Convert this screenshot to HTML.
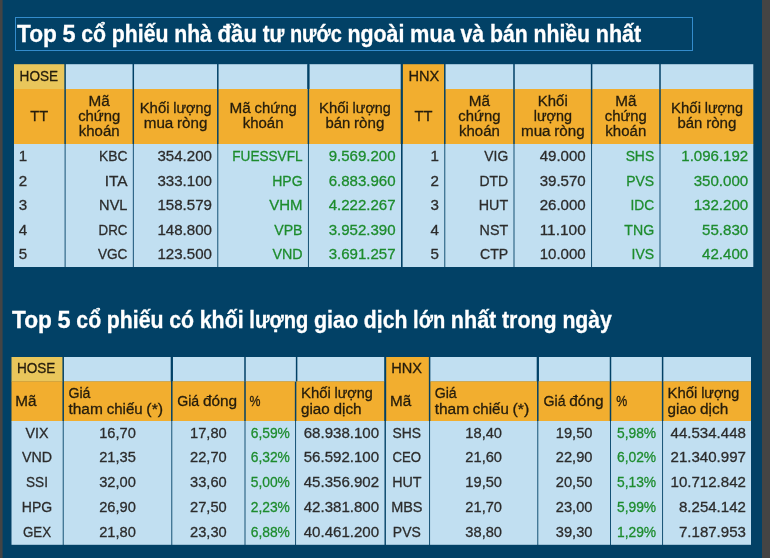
<!DOCTYPE html>
<html lang="vi"><head><meta charset="utf-8"><title>Top 5 cổ phiếu</title>
<style>
html,body{margin:0;padding:0;background:#024166;overflow:hidden}
svg{display:block;font-family:"Liberation Sans",sans-serif;font-size:15.45px}
text{white-space:pre;stroke-width:0.3px}
</style></head><body>
<svg width="770" height="558" viewBox="0 0 770 558">
<rect width="770" height="558" fill="#024166"/>
<rect x="14.00" y="64.20" width="50.35" height="25.10" fill="#e9c65b"/>
<rect x="14.00" y="89.00" width="50.35" height="55.30" fill="#f2ae2f"/>
<rect x="14.00" y="144.00" width="50.65" height="123.00" fill="#c1dff1"/>
<rect x="65.85" y="64.20" width="66.70" height="25.10" fill="#c1dff1"/>
<rect x="65.85" y="89.00" width="66.70" height="55.30" fill="#f2ae2f"/>
<rect x="65.55" y="144.00" width="67.30" height="123.00" fill="#c1dff1"/>
<rect x="134.05" y="64.20" width="83.00" height="25.10" fill="#c1dff1"/>
<rect x="134.05" y="89.00" width="83.00" height="55.30" fill="#f2ae2f"/>
<rect x="133.75" y="144.00" width="83.60" height="123.00" fill="#c1dff1"/>
<rect x="218.55" y="64.20" width="89.10" height="25.10" fill="#c1dff1"/>
<rect x="218.55" y="89.00" width="89.10" height="55.30" fill="#f2ae2f"/>
<rect x="218.25" y="144.00" width="89.70" height="123.00" fill="#c1dff1"/>
<rect x="309.15" y="64.20" width="91.55" height="25.10" fill="#c1dff1"/>
<rect x="309.15" y="89.00" width="91.55" height="55.30" fill="#f2ae2f"/>
<rect x="308.85" y="144.00" width="92.15" height="123.00" fill="#c1dff1"/>
<rect x="402.90" y="64.20" width="41.15" height="80.10" fill="#f2ae2f"/>
<rect x="402.60" y="144.00" width="41.75" height="123.00" fill="#c1dff1"/>
<rect x="445.55" y="64.20" width="67.70" height="25.10" fill="#c1dff1"/>
<rect x="445.55" y="89.00" width="67.70" height="55.30" fill="#f2ae2f"/>
<rect x="445.25" y="144.00" width="68.30" height="123.00" fill="#c1dff1"/>
<rect x="514.75" y="64.20" width="76.10" height="25.10" fill="#c1dff1"/>
<rect x="514.75" y="89.00" width="76.10" height="55.30" fill="#f2ae2f"/>
<rect x="514.45" y="144.00" width="76.70" height="123.00" fill="#c1dff1"/>
<rect x="592.35" y="64.20" width="66.90" height="25.10" fill="#c1dff1"/>
<rect x="592.35" y="89.00" width="66.90" height="55.30" fill="#f2ae2f"/>
<rect x="592.05" y="144.00" width="67.50" height="123.00" fill="#c1dff1"/>
<rect x="660.75" y="64.20" width="92.55" height="25.10" fill="#c1dff1"/>
<rect x="660.75" y="89.00" width="92.55" height="55.30" fill="#f2ae2f"/>
<rect x="660.45" y="144.00" width="92.85" height="123.00" fill="#c1dff1"/>
<rect x="11.50" y="357.00" width="50.95" height="24.60" fill="#e9c65b"/>
<rect x="11.50" y="381.30" width="50.95" height="40.00" fill="#f2ae2f"/>
<rect x="11.50" y="421.00" width="51.25" height="123.80" fill="#c1dff1"/>
<rect x="63.95" y="357.00" width="107.10" height="24.60" fill="#c1dff1"/>
<rect x="63.95" y="381.30" width="107.10" height="40.00" fill="#f2ae2f"/>
<rect x="63.65" y="421.00" width="107.70" height="123.80" fill="#c1dff1"/>
<rect x="172.55" y="357.00" width="71.70" height="24.60" fill="#c1dff1"/>
<rect x="172.55" y="381.30" width="71.70" height="40.00" fill="#f2ae2f"/>
<rect x="172.25" y="421.00" width="72.30" height="123.80" fill="#c1dff1"/>
<rect x="245.75" y="357.00" width="50.10" height="24.60" fill="#c1dff1"/>
<rect x="245.75" y="381.30" width="49.10" height="40.00" fill="#f2ae2f"/>
<rect x="245.45" y="421.00" width="49.70" height="123.80" fill="#c1dff1"/>
<rect x="297.35" y="357.00" width="86.85" height="24.60" fill="#c1dff1"/>
<rect x="296.35" y="381.30" width="87.85" height="40.00" fill="#f2ae2f"/>
<rect x="296.05" y="421.00" width="88.45" height="123.80" fill="#c1dff1"/>
<rect x="386.20" y="357.00" width="42.65" height="64.30" fill="#f2ae2f"/>
<rect x="385.90" y="421.00" width="43.25" height="123.80" fill="#c1dff1"/>
<rect x="430.35" y="357.00" width="106.70" height="24.60" fill="#c1dff1"/>
<rect x="430.35" y="381.30" width="106.70" height="40.00" fill="#f2ae2f"/>
<rect x="430.05" y="421.00" width="107.30" height="123.80" fill="#c1dff1"/>
<rect x="538.55" y="357.00" width="71.20" height="24.60" fill="#c1dff1"/>
<rect x="538.55" y="381.30" width="71.20" height="40.00" fill="#f2ae2f"/>
<rect x="538.25" y="421.00" width="71.80" height="123.80" fill="#c1dff1"/>
<rect x="611.25" y="357.00" width="50.60" height="24.60" fill="#c1dff1"/>
<rect x="611.25" y="381.30" width="50.60" height="40.00" fill="#f2ae2f"/>
<rect x="610.95" y="421.00" width="51.20" height="123.80" fill="#c1dff1"/>
<rect x="663.35" y="357.00" width="87.65" height="24.60" fill="#c1dff1"/>
<rect x="663.35" y="381.30" width="87.65" height="40.00" fill="#f2ae2f"/>
<rect x="663.05" y="421.00" width="87.95" height="123.80" fill="#c1dff1"/>
<rect x="307.30" y="64.20" width="2.20" height="24.80" fill="#024166"/>
<rect x="170.70" y="357.00" width="2.20" height="24.30" fill="#024166"/>
<rect x="536.70" y="357.00" width="2.20" height="24.30" fill="#024166"/>
<rect x="0.00" y="0.00" width="2.60" height="558.00" fill="#444444"/>
<rect x="762.00" y="0.00" width="8.00" height="558.00" fill="#444444"/>
<rect x="15.5" y="17.5" width="677" height="33" fill="none" stroke="#348ccc" stroke-width="1"/>
<text y="41.65" font-weight="bold" font-size="23.26" fill="#fff" stroke="#fff"><tspan x="17.00" textLength="39.83" lengthAdjust="spacingAndGlyphs">Top</tspan> <tspan x="62.51" textLength="13.08" lengthAdjust="spacingAndGlyphs">5</tspan> <tspan x="81.27" textLength="24.79" lengthAdjust="spacingAndGlyphs">cổ</tspan> <tspan x="111.74" textLength="56.74" lengthAdjust="spacingAndGlyphs">phiếu</tspan> <tspan x="174.16" textLength="37.76" lengthAdjust="spacingAndGlyphs">nhà</tspan> <tspan x="217.60" textLength="39.37" lengthAdjust="spacingAndGlyphs">đầu</tspan> <tspan x="262.65" textLength="21.61" lengthAdjust="spacingAndGlyphs">tư</tspan> <tspan x="289.93" textLength="51.83" lengthAdjust="spacingAndGlyphs">nước</tspan> <tspan x="347.44" textLength="56.96" lengthAdjust="spacingAndGlyphs">ngoài</tspan> <tspan x="410.08" textLength="44.73" lengthAdjust="spacingAndGlyphs">mua</tspan> <tspan x="460.49" textLength="23.76" lengthAdjust="spacingAndGlyphs">và</tspan> <tspan x="489.92" textLength="37.83" lengthAdjust="spacingAndGlyphs">bán</tspan> <tspan x="533.43" textLength="56.68" lengthAdjust="spacingAndGlyphs">nhiều</tspan> <tspan x="595.78" textLength="45.47" lengthAdjust="spacingAndGlyphs">nhất</tspan></text>
<text y="328.40" font-weight="bold" font-size="23.26" fill="#fff" stroke="#fff"><tspan x="12.10" textLength="39.83" lengthAdjust="spacingAndGlyphs">Top</tspan> <tspan x="57.61" textLength="13.08" lengthAdjust="spacingAndGlyphs">5</tspan> <tspan x="76.37" textLength="24.79" lengthAdjust="spacingAndGlyphs">cổ</tspan> <tspan x="106.84" textLength="56.74" lengthAdjust="spacingAndGlyphs">phiếu</tspan> <tspan x="169.26" textLength="24.79" lengthAdjust="spacingAndGlyphs">có</tspan> <tspan x="199.73" textLength="43.89" lengthAdjust="spacingAndGlyphs">khối</tspan> <tspan x="249.30" textLength="59.00" lengthAdjust="spacingAndGlyphs">lượng</tspan> <tspan x="313.98" textLength="44.19" lengthAdjust="spacingAndGlyphs">giao</tspan> <tspan x="363.84" textLength="43.57" lengthAdjust="spacingAndGlyphs">dịch</tspan> <tspan x="413.09" textLength="32.07" lengthAdjust="spacingAndGlyphs">lớn</tspan> <tspan x="450.84" textLength="45.47" lengthAdjust="spacingAndGlyphs">nhất</tspan> <tspan x="501.99" textLength="54.72" lengthAdjust="spacingAndGlyphs">trong</tspan> <tspan x="562.38" textLength="49.47" lengthAdjust="spacingAndGlyphs">ngày</tspan></text>
<text y="81.30" fill="#241c0c" stroke="#241c0c"><tspan x="19.60" textLength="38.45" lengthAdjust="spacingAndGlyphs">HOSE</tspan></text>
<text y="81.30" fill="#241c0c" stroke="#241c0c"><tspan x="408.50" textLength="30.81" lengthAdjust="spacingAndGlyphs">HNX</tspan></text>
<text y="120.90" fill="#241c0c" stroke="#241c0c"><tspan x="30.22" textLength="17.90" lengthAdjust="spacingAndGlyphs">TT</tspan></text>
<text y="105.60" fill="#241c0c" stroke="#241c0c"><tspan x="88.57" textLength="21.25" lengthAdjust="spacingAndGlyphs">Mã</tspan></text>
<text y="120.60" fill="#241c0c" stroke="#241c0c"><tspan x="78.15" textLength="42.10" lengthAdjust="spacingAndGlyphs">chứng</tspan></text>
<text y="135.60" fill="#241c0c" stroke="#241c0c"><tspan x="78.77" textLength="40.86" lengthAdjust="spacingAndGlyphs">khoán</tspan></text>
<text y="113.20" fill="#241c0c" stroke="#241c0c"><tspan x="139.65" textLength="29.88" lengthAdjust="spacingAndGlyphs">Khối</tspan> <tspan x="173.24" textLength="38.21" lengthAdjust="spacingAndGlyphs">lượng</tspan></text>
<text y="128.20" fill="#241c0c" stroke="#241c0c"><tspan x="143.73" textLength="29.58" lengthAdjust="spacingAndGlyphs">mua</tspan> <tspan x="177.03" textLength="30.34" lengthAdjust="spacingAndGlyphs">ròng</tspan></text>
<text y="113.20" fill="#241c0c" stroke="#241c0c"><tspan x="229.56" textLength="21.25" lengthAdjust="spacingAndGlyphs">Mã</tspan> <tspan x="254.54" textLength="42.10" lengthAdjust="spacingAndGlyphs">chứng</tspan></text>
<text y="128.20" fill="#241c0c" stroke="#241c0c"><tspan x="242.67" textLength="40.86" lengthAdjust="spacingAndGlyphs">khoán</tspan></text>
<text y="113.20" fill="#241c0c" stroke="#241c0c"><tspan x="319.02" textLength="29.88" lengthAdjust="spacingAndGlyphs">Khối</tspan> <tspan x="352.62" textLength="38.21" lengthAdjust="spacingAndGlyphs">lượng</tspan></text>
<text y="128.20" fill="#241c0c" stroke="#241c0c"><tspan x="325.46" textLength="24.87" lengthAdjust="spacingAndGlyphs">bán</tspan> <tspan x="354.05" textLength="30.34" lengthAdjust="spacingAndGlyphs">ròng</tspan></text>
<text y="120.90" fill="#241c0c" stroke="#241c0c"><tspan x="414.52" textLength="17.90" lengthAdjust="spacingAndGlyphs">TT</tspan></text>
<text y="105.60" fill="#241c0c" stroke="#241c0c"><tspan x="468.77" textLength="21.25" lengthAdjust="spacingAndGlyphs">Mã</tspan></text>
<text y="120.60" fill="#241c0c" stroke="#241c0c"><tspan x="458.35" textLength="42.10" lengthAdjust="spacingAndGlyphs">chứng</tspan></text>
<text y="135.60" fill="#241c0c" stroke="#241c0c"><tspan x="458.97" textLength="40.86" lengthAdjust="spacingAndGlyphs">khoán</tspan></text>
<text y="105.60" fill="#241c0c" stroke="#241c0c"><tspan x="537.86" textLength="29.88" lengthAdjust="spacingAndGlyphs">Khối</tspan></text>
<text y="120.60" fill="#241c0c" stroke="#241c0c"><tspan x="533.69" textLength="38.21" lengthAdjust="spacingAndGlyphs">lượng</tspan></text>
<text y="135.60" fill="#241c0c" stroke="#241c0c"><tspan x="520.98" textLength="29.58" lengthAdjust="spacingAndGlyphs">mua</tspan> <tspan x="554.28" textLength="30.34" lengthAdjust="spacingAndGlyphs">ròng</tspan></text>
<text y="105.60" fill="#241c0c" stroke="#241c0c"><tspan x="615.17" textLength="21.25" lengthAdjust="spacingAndGlyphs">Mã</tspan></text>
<text y="120.60" fill="#241c0c" stroke="#241c0c"><tspan x="604.75" textLength="42.10" lengthAdjust="spacingAndGlyphs">chứng</tspan></text>
<text y="135.60" fill="#241c0c" stroke="#241c0c"><tspan x="605.37" textLength="40.86" lengthAdjust="spacingAndGlyphs">khoán</tspan></text>
<text y="113.20" fill="#241c0c" stroke="#241c0c"><tspan x="671.12" textLength="29.88" lengthAdjust="spacingAndGlyphs">Khối</tspan> <tspan x="704.72" textLength="38.21" lengthAdjust="spacingAndGlyphs">lượng</tspan></text>
<text y="128.20" fill="#241c0c" stroke="#241c0c"><tspan x="677.56" textLength="24.87" lengthAdjust="spacingAndGlyphs">bán</tspan> <tspan x="706.15" textLength="30.34" lengthAdjust="spacingAndGlyphs">ròng</tspan></text>
<text y="161.00" fill="#2c2c2c" stroke="#2c2c2c"><tspan x="18.70" textLength="8.43" lengthAdjust="spacingAndGlyphs">1</tspan></text>
<text y="161.00" fill="#2c2c2c" stroke="#2c2c2c"><tspan x="98.93" textLength="28.52" lengthAdjust="spacingAndGlyphs">KBC</tspan></text>
<text y="161.00" fill="#2c2c2c" stroke="#2c2c2c"><tspan x="157.41" textLength="54.54" lengthAdjust="spacingAndGlyphs">354.200</tspan></text>
<text y="161.00" fill="#1d8c2d" stroke="#1d8c2d"><tspan x="232.27" textLength="70.28" lengthAdjust="spacingAndGlyphs">FUESSVFL</tspan></text>
<text y="161.00" fill="#1d8c2d" stroke="#1d8c2d"><tspan x="328.68" textLength="66.92" lengthAdjust="spacingAndGlyphs">9.569.200</tspan></text>
<text y="161.00" fill="#2c2c2c" stroke="#2c2c2c"><tspan x="430.52" textLength="8.43" lengthAdjust="spacingAndGlyphs">1</tspan></text>
<text y="161.00" fill="#2c2c2c" stroke="#2c2c2c"><tspan x="484.30" textLength="23.85" lengthAdjust="spacingAndGlyphs">VIG</tspan></text>
<text y="161.00" fill="#2c2c2c" stroke="#2c2c2c"><tspan x="539.64" textLength="46.11" lengthAdjust="spacingAndGlyphs">49.000</tspan></text>
<text y="161.00" fill="#1d8c2d" stroke="#1d8c2d"><tspan x="625.64" textLength="28.51" lengthAdjust="spacingAndGlyphs">SHS</tspan></text>
<text y="161.00" fill="#1d8c2d" stroke="#1d8c2d"><tspan x="681.28" textLength="66.92" lengthAdjust="spacingAndGlyphs">1.096.192</tspan></text>
<text y="185.60" fill="#2c2c2c" stroke="#2c2c2c"><tspan x="18.70" textLength="8.43" lengthAdjust="spacingAndGlyphs">2</tspan></text>
<text y="185.60" fill="#2c2c2c" stroke="#2c2c2c"><tspan x="104.64" textLength="22.81" lengthAdjust="spacingAndGlyphs">ITA</tspan></text>
<text y="185.60" fill="#2c2c2c" stroke="#2c2c2c"><tspan x="157.41" textLength="54.54" lengthAdjust="spacingAndGlyphs">333.100</tspan></text>
<text y="185.60" fill="#1d8c2d" stroke="#1d8c2d"><tspan x="272.17" textLength="30.38" lengthAdjust="spacingAndGlyphs">HPG</tspan></text>
<text y="185.60" fill="#1d8c2d" stroke="#1d8c2d"><tspan x="328.68" textLength="66.92" lengthAdjust="spacingAndGlyphs">6.883.960</tspan></text>
<text y="185.60" fill="#2c2c2c" stroke="#2c2c2c"><tspan x="430.52" textLength="8.43" lengthAdjust="spacingAndGlyphs">2</tspan></text>
<text y="185.60" fill="#2c2c2c" stroke="#2c2c2c"><tspan x="479.51" textLength="28.64" lengthAdjust="spacingAndGlyphs">DTD</tspan></text>
<text y="185.60" fill="#2c2c2c" stroke="#2c2c2c"><tspan x="539.64" textLength="46.11" lengthAdjust="spacingAndGlyphs">39.570</tspan></text>
<text y="185.60" fill="#1d8c2d" stroke="#1d8c2d"><tspan x="626.23" textLength="27.92" lengthAdjust="spacingAndGlyphs">PVS</tspan></text>
<text y="185.60" fill="#1d8c2d" stroke="#1d8c2d"><tspan x="693.66" textLength="54.54" lengthAdjust="spacingAndGlyphs">350.000</tspan></text>
<text y="210.20" fill="#2c2c2c" stroke="#2c2c2c"><tspan x="18.70" textLength="8.43" lengthAdjust="spacingAndGlyphs">3</tspan></text>
<text y="210.20" fill="#2c2c2c" stroke="#2c2c2c"><tspan x="99.12" textLength="28.33" lengthAdjust="spacingAndGlyphs">NVL</tspan></text>
<text y="210.20" fill="#2c2c2c" stroke="#2c2c2c"><tspan x="157.41" textLength="54.54" lengthAdjust="spacingAndGlyphs">158.579</tspan></text>
<text y="210.20" fill="#1d8c2d" stroke="#1d8c2d"><tspan x="269.20" textLength="33.35" lengthAdjust="spacingAndGlyphs">VHM</tspan></text>
<text y="210.20" fill="#1d8c2d" stroke="#1d8c2d"><tspan x="328.68" textLength="66.92" lengthAdjust="spacingAndGlyphs">4.222.267</tspan></text>
<text y="210.20" fill="#2c2c2c" stroke="#2c2c2c"><tspan x="430.52" textLength="8.43" lengthAdjust="spacingAndGlyphs">3</tspan></text>
<text y="210.20" fill="#2c2c2c" stroke="#2c2c2c"><tspan x="478.77" textLength="29.38" lengthAdjust="spacingAndGlyphs">HUT</tspan></text>
<text y="210.20" fill="#2c2c2c" stroke="#2c2c2c"><tspan x="539.64" textLength="46.11" lengthAdjust="spacingAndGlyphs">26.000</tspan></text>
<text y="210.20" fill="#1d8c2d" stroke="#1d8c2d"><tspan x="630.46" textLength="23.69" lengthAdjust="spacingAndGlyphs">IDC</tspan></text>
<text y="210.20" fill="#1d8c2d" stroke="#1d8c2d"><tspan x="693.66" textLength="54.54" lengthAdjust="spacingAndGlyphs">132.200</tspan></text>
<text y="234.80" fill="#2c2c2c" stroke="#2c2c2c"><tspan x="18.70" textLength="8.43" lengthAdjust="spacingAndGlyphs">4</tspan></text>
<text y="234.80" fill="#2c2c2c" stroke="#2c2c2c"><tspan x="98.60" textLength="28.85" lengthAdjust="spacingAndGlyphs">DRC</tspan></text>
<text y="234.80" fill="#2c2c2c" stroke="#2c2c2c"><tspan x="157.41" textLength="54.54" lengthAdjust="spacingAndGlyphs">148.800</tspan></text>
<text y="234.80" fill="#1d8c2d" stroke="#1d8c2d"><tspan x="274.19" textLength="28.36" lengthAdjust="spacingAndGlyphs">VPB</tspan></text>
<text y="234.80" fill="#1d8c2d" stroke="#1d8c2d"><tspan x="328.68" textLength="66.92" lengthAdjust="spacingAndGlyphs">3.952.390</tspan></text>
<text y="234.80" fill="#2c2c2c" stroke="#2c2c2c"><tspan x="430.52" textLength="8.43" lengthAdjust="spacingAndGlyphs">4</tspan></text>
<text y="234.80" fill="#2c2c2c" stroke="#2c2c2c"><tspan x="479.59" textLength="28.56" lengthAdjust="spacingAndGlyphs">NST</tspan></text>
<text y="234.80" fill="#2c2c2c" stroke="#2c2c2c"><tspan x="539.64" textLength="46.11" lengthAdjust="spacingAndGlyphs">11.100</tspan></text>
<text y="234.80" fill="#1d8c2d" stroke="#1d8c2d"><tspan x="624.28" textLength="29.87" lengthAdjust="spacingAndGlyphs">TNG</tspan></text>
<text y="234.80" fill="#1d8c2d" stroke="#1d8c2d"><tspan x="702.09" textLength="46.11" lengthAdjust="spacingAndGlyphs">55.830</tspan></text>
<text y="259.40" fill="#2c2c2c" stroke="#2c2c2c"><tspan x="18.70" textLength="8.43" lengthAdjust="spacingAndGlyphs">5</tspan></text>
<text y="259.40" fill="#2c2c2c" stroke="#2c2c2c"><tspan x="97.92" textLength="29.53" lengthAdjust="spacingAndGlyphs">VGC</tspan></text>
<text y="259.40" fill="#2c2c2c" stroke="#2c2c2c"><tspan x="157.41" textLength="54.54" lengthAdjust="spacingAndGlyphs">123.500</tspan></text>
<text y="259.40" fill="#1d8c2d" stroke="#1d8c2d"><tspan x="272.45" textLength="30.10" lengthAdjust="spacingAndGlyphs">VND</tspan></text>
<text y="259.40" fill="#1d8c2d" stroke="#1d8c2d"><tspan x="328.68" textLength="66.92" lengthAdjust="spacingAndGlyphs">3.691.257</tspan></text>
<text y="259.40" fill="#2c2c2c" stroke="#2c2c2c"><tspan x="430.52" textLength="8.43" lengthAdjust="spacingAndGlyphs">5</tspan></text>
<text y="259.40" fill="#2c2c2c" stroke="#2c2c2c"><tspan x="479.97" textLength="28.18" lengthAdjust="spacingAndGlyphs">CTP</tspan></text>
<text y="259.40" fill="#2c2c2c" stroke="#2c2c2c"><tspan x="539.64" textLength="46.11" lengthAdjust="spacingAndGlyphs">10.000</tspan></text>
<text y="259.40" fill="#1d8c2d" stroke="#1d8c2d"><tspan x="631.61" textLength="22.54" lengthAdjust="spacingAndGlyphs">IVS</tspan></text>
<text y="259.40" fill="#1d8c2d" stroke="#1d8c2d"><tspan x="702.09" textLength="46.11" lengthAdjust="spacingAndGlyphs">42.400</tspan></text>
<text y="373.20" fill="#241c0c" stroke="#241c0c"><tspan x="16.90" textLength="38.45" lengthAdjust="spacingAndGlyphs">HOSE</tspan></text>
<text y="373.20" fill="#241c0c" stroke="#241c0c"><tspan x="391.20" textLength="30.81" lengthAdjust="spacingAndGlyphs">HNX</tspan></text>
<text y="405.70" fill="#241c0c" stroke="#241c0c"><tspan x="15.30" textLength="21.25" lengthAdjust="spacingAndGlyphs">Mã</tspan></text>
<text y="398.30" fill="#241c0c" stroke="#241c0c"><tspan x="68.45" textLength="22.02" lengthAdjust="spacingAndGlyphs">Giá</tspan></text>
<text y="413.70" fill="#241c0c" stroke="#241c0c"><tspan x="68.45" textLength="34.48" lengthAdjust="spacingAndGlyphs">tham</tspan> <tspan x="106.65" textLength="35.98" lengthAdjust="spacingAndGlyphs">chiếu</tspan> <tspan x="146.36" textLength="16.82" lengthAdjust="spacingAndGlyphs">(*)</tspan></text>
<text y="405.70" fill="#241c0c" stroke="#241c0c"><tspan x="177.15" textLength="22.02" lengthAdjust="spacingAndGlyphs">Giá</tspan> <tspan x="202.89" textLength="34.23" lengthAdjust="spacingAndGlyphs">đóng</tspan></text>
<text y="405.70" fill="#241c0c" stroke="#241c0c"><tspan x="249.55" textLength="10.99" lengthAdjust="spacingAndGlyphs">%</tspan></text>
<text y="398.30" fill="#241c0c" stroke="#241c0c"><tspan x="300.95" textLength="29.88" lengthAdjust="spacingAndGlyphs">Khối</tspan> <tspan x="334.55" textLength="38.21" lengthAdjust="spacingAndGlyphs">lượng</tspan></text>
<text y="413.70" fill="#241c0c" stroke="#241c0c"><tspan x="300.95" textLength="28.78" lengthAdjust="spacingAndGlyphs">giao</tspan> <tspan x="333.45" textLength="28.22" lengthAdjust="spacingAndGlyphs">dịch</tspan></text>
<text y="405.70" fill="#241c0c" stroke="#241c0c"><tspan x="390.00" textLength="21.25" lengthAdjust="spacingAndGlyphs">Mã</tspan></text>
<text y="398.30" fill="#241c0c" stroke="#241c0c"><tspan x="434.65" textLength="22.02" lengthAdjust="spacingAndGlyphs">Giá</tspan></text>
<text y="413.70" fill="#241c0c" stroke="#241c0c"><tspan x="434.65" textLength="34.48" lengthAdjust="spacingAndGlyphs">tham</tspan> <tspan x="472.85" textLength="35.98" lengthAdjust="spacingAndGlyphs">chiếu</tspan> <tspan x="512.56" textLength="16.82" lengthAdjust="spacingAndGlyphs">(*)</tspan></text>
<text y="405.70" fill="#241c0c" stroke="#241c0c"><tspan x="543.55" textLength="22.02" lengthAdjust="spacingAndGlyphs">Giá</tspan> <tspan x="569.29" textLength="34.23" lengthAdjust="spacingAndGlyphs">đóng</tspan></text>
<text y="405.70" fill="#241c0c" stroke="#241c0c"><tspan x="616.25" textLength="10.99" lengthAdjust="spacingAndGlyphs">%</tspan></text>
<text y="398.30" fill="#241c0c" stroke="#241c0c"><tspan x="667.55" textLength="29.88" lengthAdjust="spacingAndGlyphs">Khối</tspan> <tspan x="701.15" textLength="38.21" lengthAdjust="spacingAndGlyphs">lượng</tspan></text>
<text y="413.70" fill="#241c0c" stroke="#241c0c"><tspan x="667.55" textLength="28.78" lengthAdjust="spacingAndGlyphs">giao</tspan> <tspan x="700.05" textLength="28.22" lengthAdjust="spacingAndGlyphs">dịch</tspan></text>
<text y="437.70" fill="#2c2c2c" stroke="#2c2c2c"><tspan x="25.46" textLength="23.03" lengthAdjust="spacingAndGlyphs">VIX</tspan></text>
<text y="437.70" fill="#2c2c2c" stroke="#2c2c2c"><tspan x="99.16" textLength="36.67" lengthAdjust="spacingAndGlyphs">16,70</tspan></text>
<text y="437.70" fill="#2c2c2c" stroke="#2c2c2c"><tspan x="190.06" textLength="36.67" lengthAdjust="spacingAndGlyphs">17,80</tspan></text>
<text y="437.70" fill="#1d8c2d" stroke="#1d8c2d"><tspan x="250.69" textLength="39.23" lengthAdjust="spacingAndGlyphs">6,59%</tspan></text>
<text y="437.70" fill="#2c2c2c" stroke="#2c2c2c"><tspan x="303.75" textLength="75.35" lengthAdjust="spacingAndGlyphs">68.938.100</tspan></text>
<text y="437.70" fill="#2c2c2c" stroke="#2c2c2c"><tspan x="392.57" textLength="28.51" lengthAdjust="spacingAndGlyphs">SHS</tspan></text>
<text y="437.70" fill="#2c2c2c" stroke="#2c2c2c"><tspan x="465.36" textLength="36.67" lengthAdjust="spacingAndGlyphs">18,40</tspan></text>
<text y="437.70" fill="#2c2c2c" stroke="#2c2c2c"><tspan x="555.81" textLength="36.67" lengthAdjust="spacingAndGlyphs">19,50</tspan></text>
<text y="437.70" fill="#1d8c2d" stroke="#1d8c2d"><tspan x="616.94" textLength="39.23" lengthAdjust="spacingAndGlyphs">5,98%</tspan></text>
<text y="437.70" fill="#2c2c2c" stroke="#2c2c2c"><tspan x="670.55" textLength="75.35" lengthAdjust="spacingAndGlyphs">44.534.448</tspan></text>
<text y="462.45" fill="#2c2c2c" stroke="#2c2c2c"><tspan x="21.93" textLength="30.10" lengthAdjust="spacingAndGlyphs">VND</tspan></text>
<text y="462.45" fill="#2c2c2c" stroke="#2c2c2c"><tspan x="99.16" textLength="36.67" lengthAdjust="spacingAndGlyphs">21,35</tspan></text>
<text y="462.45" fill="#2c2c2c" stroke="#2c2c2c"><tspan x="190.06" textLength="36.67" lengthAdjust="spacingAndGlyphs">22,70</tspan></text>
<text y="462.45" fill="#1d8c2d" stroke="#1d8c2d"><tspan x="250.69" textLength="39.23" lengthAdjust="spacingAndGlyphs">6,32%</tspan></text>
<text y="462.45" fill="#2c2c2c" stroke="#2c2c2c"><tspan x="303.75" textLength="75.35" lengthAdjust="spacingAndGlyphs">56.592.100</tspan></text>
<text y="462.45" fill="#2c2c2c" stroke="#2c2c2c"><tspan x="392.52" textLength="28.61" lengthAdjust="spacingAndGlyphs">CEO</tspan></text>
<text y="462.45" fill="#2c2c2c" stroke="#2c2c2c"><tspan x="465.36" textLength="36.67" lengthAdjust="spacingAndGlyphs">21,60</tspan></text>
<text y="462.45" fill="#2c2c2c" stroke="#2c2c2c"><tspan x="555.81" textLength="36.67" lengthAdjust="spacingAndGlyphs">22,90</tspan></text>
<text y="462.45" fill="#1d8c2d" stroke="#1d8c2d"><tspan x="616.94" textLength="39.23" lengthAdjust="spacingAndGlyphs">6,02%</tspan></text>
<text y="462.45" fill="#2c2c2c" stroke="#2c2c2c"><tspan x="670.55" textLength="75.35" lengthAdjust="spacingAndGlyphs">21.340.997</tspan></text>
<text y="487.20" fill="#2c2c2c" stroke="#2c2c2c"><tspan x="26.03" textLength="21.89" lengthAdjust="spacingAndGlyphs">SSI</tspan></text>
<text y="487.20" fill="#2c2c2c" stroke="#2c2c2c"><tspan x="99.16" textLength="36.67" lengthAdjust="spacingAndGlyphs">32,00</tspan></text>
<text y="487.20" fill="#2c2c2c" stroke="#2c2c2c"><tspan x="190.06" textLength="36.67" lengthAdjust="spacingAndGlyphs">33,60</tspan></text>
<text y="487.20" fill="#1d8c2d" stroke="#1d8c2d"><tspan x="250.69" textLength="39.23" lengthAdjust="spacingAndGlyphs">5,00%</tspan></text>
<text y="487.20" fill="#2c2c2c" stroke="#2c2c2c"><tspan x="303.75" textLength="75.35" lengthAdjust="spacingAndGlyphs">45.356.902</tspan></text>
<text y="487.20" fill="#2c2c2c" stroke="#2c2c2c"><tspan x="392.14" textLength="29.38" lengthAdjust="spacingAndGlyphs">HUT</tspan></text>
<text y="487.20" fill="#2c2c2c" stroke="#2c2c2c"><tspan x="465.36" textLength="36.67" lengthAdjust="spacingAndGlyphs">19,50</tspan></text>
<text y="487.20" fill="#2c2c2c" stroke="#2c2c2c"><tspan x="555.81" textLength="36.67" lengthAdjust="spacingAndGlyphs">20,50</tspan></text>
<text y="487.20" fill="#1d8c2d" stroke="#1d8c2d"><tspan x="616.94" textLength="39.23" lengthAdjust="spacingAndGlyphs">5,13%</tspan></text>
<text y="487.20" fill="#2c2c2c" stroke="#2c2c2c"><tspan x="670.55" textLength="75.35" lengthAdjust="spacingAndGlyphs">10.712.842</tspan></text>
<text y="511.95" fill="#2c2c2c" stroke="#2c2c2c"><tspan x="21.78" textLength="30.38" lengthAdjust="spacingAndGlyphs">HPG</tspan></text>
<text y="511.95" fill="#2c2c2c" stroke="#2c2c2c"><tspan x="99.16" textLength="36.67" lengthAdjust="spacingAndGlyphs">26,90</tspan></text>
<text y="511.95" fill="#2c2c2c" stroke="#2c2c2c"><tspan x="190.06" textLength="36.67" lengthAdjust="spacingAndGlyphs">27,50</tspan></text>
<text y="511.95" fill="#1d8c2d" stroke="#1d8c2d"><tspan x="250.69" textLength="39.23" lengthAdjust="spacingAndGlyphs">2,23%</tspan></text>
<text y="511.95" fill="#2c2c2c" stroke="#2c2c2c"><tspan x="303.75" textLength="75.35" lengthAdjust="spacingAndGlyphs">42.381.800</tspan></text>
<text y="511.95" fill="#2c2c2c" stroke="#2c2c2c"><tspan x="391.15" textLength="31.35" lengthAdjust="spacingAndGlyphs">MBS</tspan></text>
<text y="511.95" fill="#2c2c2c" stroke="#2c2c2c"><tspan x="465.36" textLength="36.67" lengthAdjust="spacingAndGlyphs">21,70</tspan></text>
<text y="511.95" fill="#2c2c2c" stroke="#2c2c2c"><tspan x="555.81" textLength="36.67" lengthAdjust="spacingAndGlyphs">23,00</tspan></text>
<text y="511.95" fill="#1d8c2d" stroke="#1d8c2d"><tspan x="616.94" textLength="39.23" lengthAdjust="spacingAndGlyphs">5,99%</tspan></text>
<text y="511.95" fill="#2c2c2c" stroke="#2c2c2c"><tspan x="678.98" textLength="66.92" lengthAdjust="spacingAndGlyphs">8.254.142</tspan></text>
<text y="536.70" fill="#2c2c2c" stroke="#2c2c2c"><tspan x="22.90" textLength="28.15" lengthAdjust="spacingAndGlyphs">GEX</tspan></text>
<text y="536.70" fill="#2c2c2c" stroke="#2c2c2c"><tspan x="99.16" textLength="36.67" lengthAdjust="spacingAndGlyphs">21,80</tspan></text>
<text y="536.70" fill="#2c2c2c" stroke="#2c2c2c"><tspan x="190.06" textLength="36.67" lengthAdjust="spacingAndGlyphs">23,30</tspan></text>
<text y="536.70" fill="#1d8c2d" stroke="#1d8c2d"><tspan x="250.69" textLength="39.23" lengthAdjust="spacingAndGlyphs">6,88%</tspan></text>
<text y="536.70" fill="#2c2c2c" stroke="#2c2c2c"><tspan x="303.75" textLength="75.35" lengthAdjust="spacingAndGlyphs">40.461.200</tspan></text>
<text y="536.70" fill="#2c2c2c" stroke="#2c2c2c"><tspan x="392.87" textLength="27.92" lengthAdjust="spacingAndGlyphs">PVS</tspan></text>
<text y="536.70" fill="#2c2c2c" stroke="#2c2c2c"><tspan x="465.36" textLength="36.67" lengthAdjust="spacingAndGlyphs">38,80</tspan></text>
<text y="536.70" fill="#2c2c2c" stroke="#2c2c2c"><tspan x="555.81" textLength="36.67" lengthAdjust="spacingAndGlyphs">39,30</tspan></text>
<text y="536.70" fill="#1d8c2d" stroke="#1d8c2d"><tspan x="616.94" textLength="39.23" lengthAdjust="spacingAndGlyphs">1,29%</tspan></text>
<text y="536.70" fill="#2c2c2c" stroke="#2c2c2c"><tspan x="678.98" textLength="66.92" lengthAdjust="spacingAndGlyphs">7.187.953</tspan></text>
</svg>
</body></html>
